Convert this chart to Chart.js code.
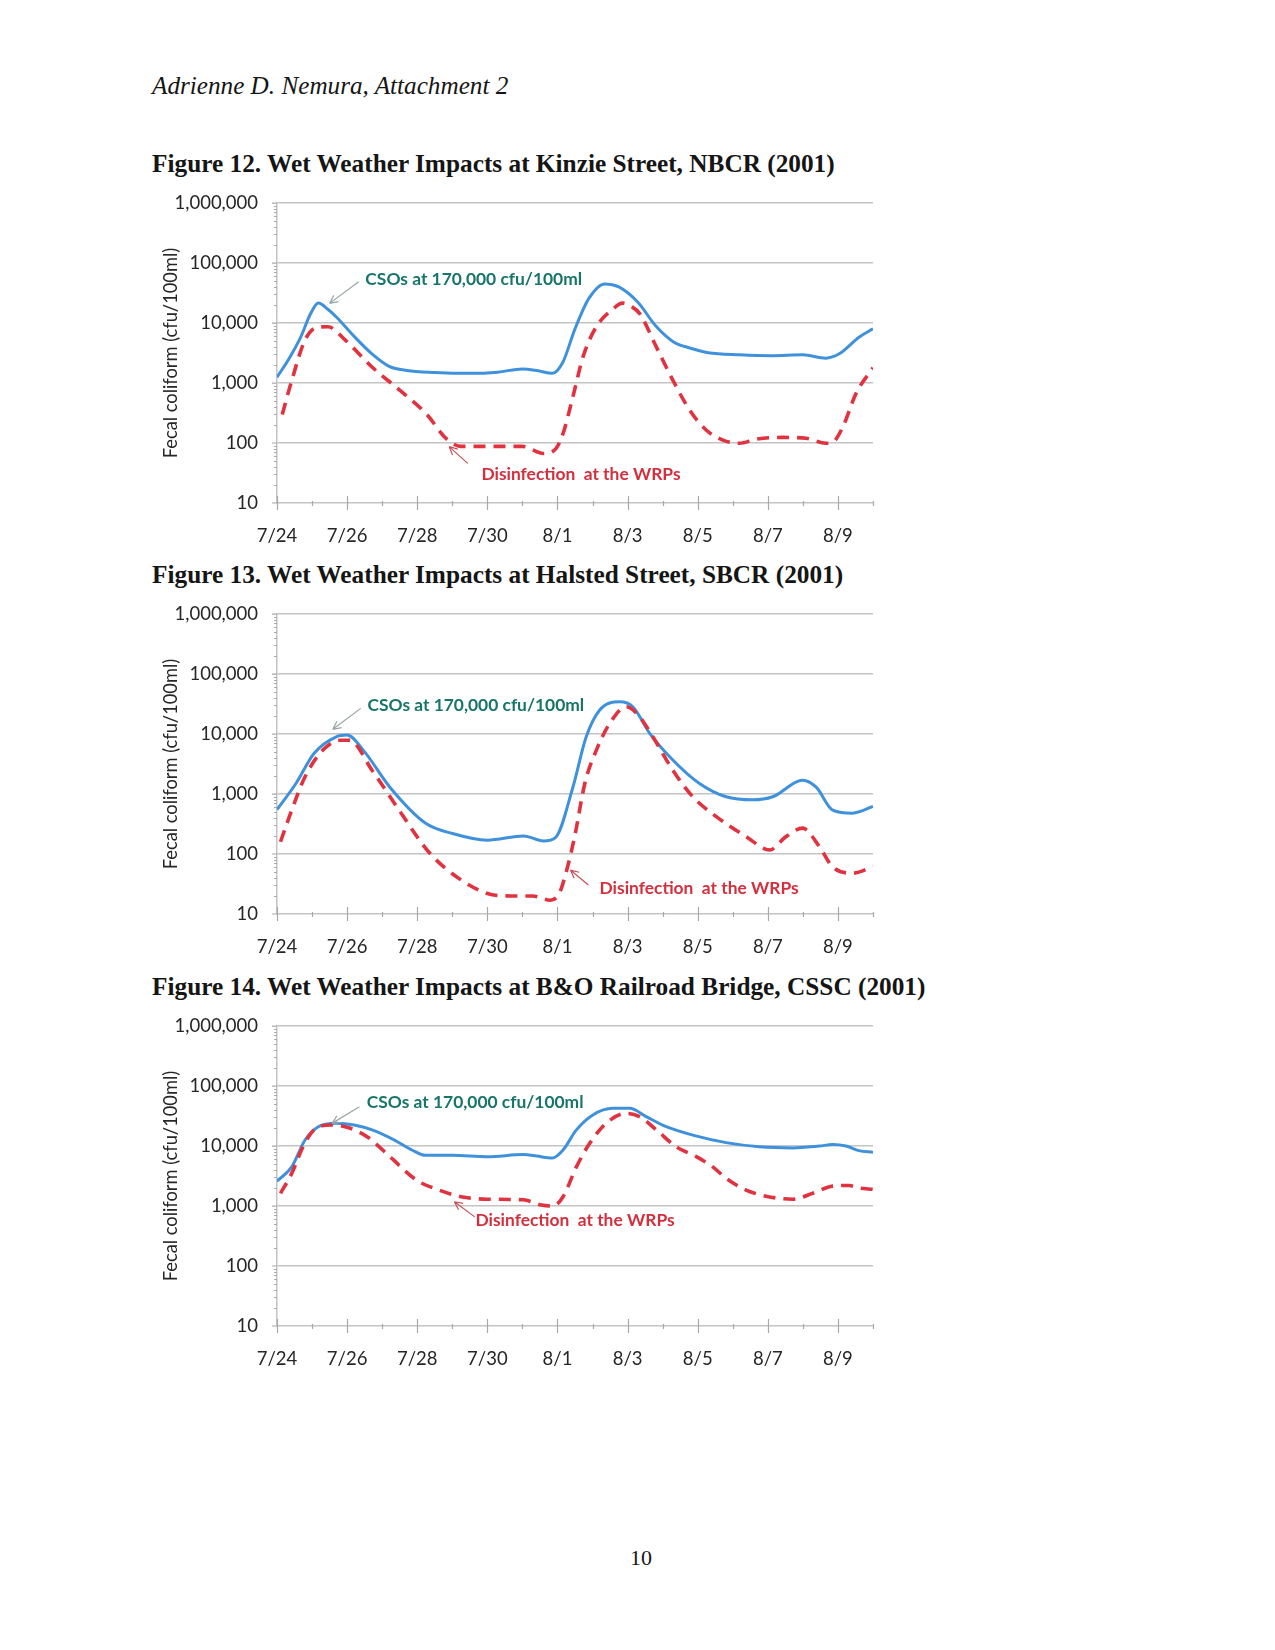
<!DOCTYPE html>
<html><head><meta charset="utf-8">
<script src="https://cdn.jsdelivr.net/npm/chart.js@4.4.0/dist/chart.umd.min.js"></script>
<style>
body{margin:0;background:#fff;width:1275px;height:1650px;position:relative;overflow:hidden}
.hdr{position:absolute;left:152px;top:72px;font:italic 25.2px "Liberation Serif";color:#151515;white-space:nowrap}
.ttl{position:absolute;left:152px;font:bold 25.3px "Liberation Serif";color:#151515;white-space:nowrap}
.box{position:absolute;left:150px;width:740px}
.pg{position:absolute;left:630px;top:1545px;font:22px "Liberation Serif";color:#151515}
</style></head>
<body>
<div class="hdr">Adrienne D. Nemura, Attachment 2</div>
<div class="ttl" style="top:149px">Figure 12. Wet Weather Impacts at Kinzie Street, NBCR (2001)</div>
<div class="box" id="b12" style="top:185px"><canvas id="c12" width="740" height="370"></canvas></div>
<div class="ttl" style="top:560px">Figure 13. Wet Weather Impacts at Halsted Street, SBCR (2001)</div>
<div class="box" id="b13" style="top:596px"><canvas id="c13" width="740" height="370"></canvas></div>
<div class="ttl" style="top:972px">Figure 14. Wet Weather Impacts at B&amp;O Railroad Bridge, CSSC (2001)</div>
<div class="box" id="b14" style="top:1008px"><canvas id="c14" width="740" height="370"></canvas></div>
<div class="pg">10</div>
<script>
// ---- tick labels ----
const tickDays = [0,2,4,6,8,10,12,14,16];
const tickLabels = ['7/24','7/26','7/28','7/30','8/1','8/3','8/5','8/7','8/9'];
const yTicks = [10,100,1000,10000,100000,1000000];
const yTickLabels = ['10','100','1,000','10,000','100,000','1,000,000'];

// ---- Figure 12 (days after 7/24) ----
const fig12CsoDays = [0,0.35,0.68,0.95,1.18,1.45,1.7,2.2,2.7,3.2,3.7,4.5,5.5,6.3,7.0,7.45,7.85,8.15,8.5,8.9,9.35,9.75,10.3,10.8,11.3,11.8,12.3,13.2,14.1,15.0,15.65,16.05,16.6,17.0];
const fig12Cso = [1250,2600,5900,14000,21500,17000,12500,6000,3100,1900,1620,1500,1450,1520,1720,1600,1450,2200,8000,26000,45000,40000,22000,9000,4900,3800,3200,2950,2850,2950,2600,3100,5800,8000];
const fig12DisDays = [0.15,0.42,0.8,1.15,1.45,1.95,2.7,3.5,4.25,4.85,5.25,6.3,7.0,7.6,7.95,8.16,8.44,8.73,9.11,9.58,9.85,10.1,10.34,10.82,11.29,11.77,12.24,12.72,13.19,13.67,14.43,15.09,15.66,15.85,16.14,16.52,17.0];
const fig12Dis = [300,1100,5200,8500,8700,5200,1870,760,310,115,88,88,88,67,80,145,590,2750,8700,17000,21500,19000,14500,4000,1120,355,165,112,99,116,124,120,99,103,185,680,1800];

// ---- Figure 13 ----
const fig13CsoDays = [0,0.54,1.06,1.69,2.0,2.46,3.22,4.24,5.0,6.0,7.03,7.6,7.95,8.44,8.82,9.2,9.77,10.15,10.63,11.29,12.05,12.81,13.57,14.14,14.99,15.38,15.85,16.42,17.0];
const fig13Cso = [550,1500,4800,9000,9600,5400,1300,325,220,170,200,165,190,1300,9000,25000,34500,28500,10300,3700,1500,900,800,900,1700,1300,540,480,620];
const fig13DisDays = [0.1,0.42,0.8,1.31,1.82,2.07,2.71,3.48,4.36,5.25,6.0,6.65,7.29,7.8,8.05,8.24,8.49,8.78,9.11,9.49,9.96,10.34,10.72,11.29,11.86,12.53,13.38,14.05,14.52,14.99,15.47,15.85,16.42,17.0];
const fig13Dis = [160,540,1940,5400,7900,7900,2500,540,103,37,22,20,20,17,22,48,195,1500,5400,15000,28500,19500,9000,2500,900,420,195,117,195,270,133,61,48,62];

// ---- Figure 14 ----
const fig14CsoDays = [0,0.42,0.8,1.18,1.69,2.2,2.71,3.35,3.85,4.24,5.0,6.0,7.03,7.41,7.85,8.16,8.54,9.01,9.58,10.06,10.53,11.1,11.86,12.81,13.76,14.71,15.47,15.85,16.23,16.6,17.0];
const fig14Cso = [2600,4500,12600,21000,24000,22500,18600,12600,8600,7000,7000,6650,7200,6800,6300,8600,18600,33000,42500,42500,31000,21000,15200,11400,9700,9300,10000,10600,10000,8400,7900];
const fig14DisDays = [0.1,0.42,0.74,1.06,1.57,2.07,2.58,3.22,3.98,4.62,5.25,6.0,7.03,7.54,7.87,8.16,8.54,8.92,9.39,9.96,10.34,10.82,11.39,11.96,12.43,12.81,13.38,13.95,14.71,15.28,15.85,16.32,16.6,17.0];
const fig14Dis = [1630,3500,9700,18600,22500,20000,14200,6650,2700,1850,1430,1300,1270,1040,1000,1430,4500,11100,24000,35000,31000,18600,9700,6650,4500,2900,1850,1460,1300,1630,2150,2200,2000,1900];

const csoText = 'CSOs at 170,000 cfu/100ml';
const disText = 'Disinfection  at the WRPs';

// annotation anchors in data coordinates [day, value]
const notes12 = {cso:[2.52,54000], csoTail:[2.33,48800], csoHead:[1.5,21300], dis:[5.83,30.4], disTail:[5.44,45.7], disHead:[4.91,87]};
const notes13 = {cso:[2.58,30400], csoTail:[2.39,26800], csoHead:[1.59,12000], dis:[9.2,26.8], disTail:[8.88,30.4], disHead:[8.37,54]};
const notes14 = {cso:[2.56,52700], csoTail:[2.35,45200], csoHead:[1.57,23900], dis:[5.66,585], disTail:[5.64,660], disHead:[5.06,1180]};

const FONT = 'Lato';
const AREA_H = 300;
function pairs(xs, ys){ return xs.map((x,i)=>({x:x, y:ys[i]})); }

const axisMarks = {
  id:'axisMarks',
  beforeDatasetsDraw(chart){
    const {ctx, scales:{x,y}, chartArea:a} = chart;
    ctx.save();
    ctx.strokeStyle = '#a9a9a9'; ctx.lineWidth = 1.2;
    ctx.beginPath();
    for (let d = 0; d <= 17; d++) {
      const px = Math.round(x.getPixelForValue(d)) + 0.5;
      const major = d % 2 === 0;
      ctx.moveTo(px, a.bottom - (major ? 7 : 2));
      ctx.lineTo(px, a.bottom + (major ? 7 : 3));
    }
    for (let dec = 10; dec < 1e6; dec *= 10) {
      for (let m = 2; m < 10; m++) {
        const py = Math.round(y.getPixelForValue(dec*m)) + 0.5;
        ctx.moveTo(a.left - 3, py); ctx.lineTo(a.left, py);
      }
    }
    yTicks.forEach(v => {
      const py = y.getPixelForValue(v);
      ctx.moveTo(a.left - 5, py); ctx.lineTo(a.left, py);
    });
    ctx.stroke();
    ctx.restore();
  }
};

const notesPlugin = {
  id:'notes',
  afterDatasetsDraw(chart, args, opts){
    const n = opts.n; if (!n) return;
    const {ctx, scales:{x,y}} = chart;
    const P = p => [x.getPixelForValue(p[0]), y.getPixelForValue(p[1])];
    function arrow(t, h, color){
      const [x1,y1] = P(t), [x2,y2] = P(h);
      ctx.save(); ctx.strokeStyle = color; ctx.lineWidth = 1.2;
      ctx.beginPath(); ctx.moveTo(x1,y1); ctx.lineTo(x2,y2);
      const ang = Math.atan2(y2-y1, x2-x1), L = 9;
      ctx.moveTo(x2,y2); ctx.lineTo(x2 - L*Math.cos(ang-0.45), y2 - L*Math.sin(ang-0.45));
      ctx.moveTo(x2,y2); ctx.lineTo(x2 - L*Math.cos(ang+0.45), y2 - L*Math.sin(ang+0.45));
      ctx.stroke(); ctx.restore();
    }
    arrow(n.csoTail, n.csoHead, '#9aa5a5');
    arrow(n.disTail, n.disHead, '#c8505a');
    ctx.save();
    ctx.font = 'bold 17.4px ' + FONT; ctx.textBaseline = 'middle'; ctx.textAlign = 'left';
    let p = P(n.cso); ctx.fillStyle = '#17756a'; ctx.fillText(csoText, p[0], p[1]);
    p = P(n.dis); ctx.fillStyle = '#d42f3d'; ctx.fillText(disText, p[0], p[1]);
    ctx.restore();
  }
};

function makeChart(id, boxId, areaTop, csoDays, cso, disDays, dis, n){
  const chart = new Chart(document.getElementById(id), {
    type:'line',
    data:{datasets:[
      {label:disText, data:pairs(disDays, dis), borderColor:'#e0323f', borderWidth:3.6, borderDash:[12,8],
       pointRadius:0, cubicInterpolationMode:'monotone', fill:false},
      {label:csoText, data:pairs(csoDays, cso), borderColor:'#3f91db', borderWidth:3,
       pointRadius:0, cubicInterpolationMode:'monotone', fill:false}
    ]},
    options:{
      responsive:false, maintainAspectRatio:false, animation:false, events:[],
      layout:{padding:{top:18, right:17, left:0, bottom:0}},
      plugins:{legend:{display:false}, tooltip:{enabled:false}, notes:{n:n}},
      scales:{
        x:{type:'linear', min:0, max:17,
           grid:{display:false, drawTicks:false}, border:{display:false},
           afterBuildTicks: s => { s.ticks = tickDays.map(v => ({value:v})); },
           ticks:{padding:22, font:{family:FONT, size:18.5}, color:'#262626', maxRotation:0, autoSkip:false,
                  callback: v => tickLabels[tickDays.indexOf(v)]},
           afterFit: s => { s.height = 52; }
        },
        y:{type:'logarithmic', min:10, max:1000000,
           afterBuildTicks: s => { s.ticks = yTicks.map(v => ({value:v})); },
           ticks:{padding:19, font:{family:FONT, size:18.5}, color:'#262626', autoSkip:false,
                  callback: v => yTickLabels[yTicks.indexOf(v)]},
           grid:{color:'#c4c4c4', lineWidth:1.5, drawTicks:false},
           border:{display:true, color:'#c4c4c4', width:1.5},
           title:{display:true, text:'Fecal coliform (cfu/100ml)', font:{family:FONT, size:18.3}, color:'#262626', padding:{top:10, bottom:0}},
           afterFit: s => { s.width = 127; }
        }
      }
    },
    plugins:[axisMarks, notesPlugin]
  });
  // keep the plot area at the reference size and position
  const a = chart.chartArea;
  const dh = AREA_H - (a.bottom - a.top);
  if (Math.abs(dh) > 0.5) chart.resize(740, Math.round(chart.height + dh));
  document.getElementById(boxId).style.top = (areaTop - chart.chartArea.top) + 'px';
  return chart;
}

makeChart('c12', 'b12', 203, fig12CsoDays, fig12Cso, fig12DisDays, fig12Dis, notes12);
makeChart('c13', 'b13', 614, fig13CsoDays, fig13Cso, fig13DisDays, fig13Dis, notes13);
makeChart('c14', 'b14', 1026, fig14CsoDays, fig14Cso, fig14DisDays, fig14Dis, notes14);
</script>
</body></html>
